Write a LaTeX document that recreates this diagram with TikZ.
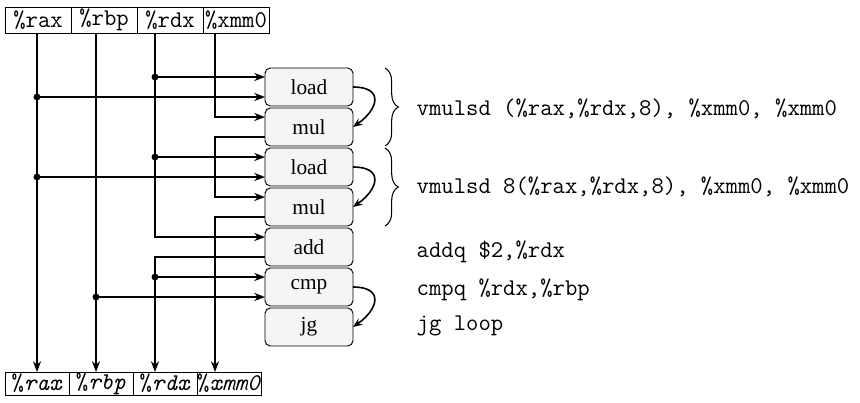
\documentclass[tikz,border=0pt]{standalone}
\usepackage{fontspec}
\setmainfont{Liberation Serif}
\usetikzlibrary{arrows.meta,calc,positioning,decorations.pathreplacing}

\begin{document}
\begin{tikzpicture}[
  x=0.75pt, y=0.75pt,
  every node/.style={font=\fontsize{16}{19}\selectfont},
  regbox/.style={draw, line width=0.7pt, outer sep=0pt, inner sep=0pt,
    minimum width=49.5pt, minimum height=19.5pt,
    font=\ttfamily\fontsize{18}{20}\selectfont},
  opbox/.style={draw, line width=0.7pt, rounded corners=4pt, fill=black!4,
    outer sep=0pt, minimum width=66pt, minimum height=28.5pt},
  wire/.style={line width=1.4pt},
  wire arrow/.style={wire, -{Stealth[length=8pt,width=6pt]}},
  loop arrow/.style={line width=1.2pt, -{Stealth[length=7pt,width=5.5pt]}},
  asm/.style={anchor=base west, font=\ttfamily\fontsize{18}{20}\selectfont},
]

%% Fixed picture size
\useasboundingbox (0,0) rectangle (860,-403);

%% ---- Registers on entry ----
\node[regbox] (rax) at (38,-20) {\%rax};
\node[regbox, right=0pt of rax] (rbp) {\%rbp};
\node[regbox, right=0pt of rbp] (rdx) {\%rdx};
\node[regbox, right=0pt of rdx] (xmm0) {\%xmm0};

%% ---- Registers on exit ----
\node[regbox, minimum width=48pt, minimum height=17.25pt] (orax) at (37,-383.5) {\%\textit{rax}};
\node[regbox, minimum width=48pt, minimum height=17.25pt, right=0pt of orax] (orbp) {\%\textit{rbp}};
\node[regbox, minimum width=48pt, minimum height=17.25pt, right=0pt of orbp] (ordx) {\%\textit{rdx}};
\node[regbox, minimum width=48pt, minimum height=17.25pt, right=0pt of ordx] (oxmm0) {\%\textit{xmm0}};

%% x positions of the register wires
\coordinate (x-rax) at (37,0);
\coordinate (x-rbp) at (96,0);
\coordinate (x-rdx) at (155,0);
\coordinate (x-xmm0) at (215,0);

%% ---- Micro-op boxes ----
\node[opbox] (load1) at (309,-87) {load};
\node[opbox, below=1.5pt of load1] (mul1) {mul};
\node[opbox, below=1.5pt of mul1] (load2) {load};
\node[opbox, below=1.5pt of load2] (mul2) {mul};
\node[opbox, below=1.5pt of mul2] (add) {add};
\node[opbox, below=1.5pt of add] (cmp) {cmp};
\node[opbox, below=1.5pt of cmp] (jg) {jg};

% ports: a = upper, b = lower
\coordinate (load1-a) at ([yshift=7.5pt]load1.west);
\coordinate (load1-b) at ([yshift=-7.5pt]load1.west);
\coordinate (mul1-a) at ([yshift=7.5pt]mul1.west);
\coordinate (mul1-b) at ([yshift=-7.5pt]mul1.west);
\coordinate (load2-a) at ([yshift=7.5pt]load2.west);
\coordinate (load2-b) at ([yshift=-7.5pt]load2.west);
\coordinate (mul2-a) at ([yshift=7.5pt]mul2.west);
\coordinate (mul2-b) at ([yshift=-7.5pt]mul2.west);
\coordinate (add-a) at ([yshift=7.5pt]add.west);
\coordinate (add-b) at ([yshift=-7.5pt]add.west);
\coordinate (cmp-a) at ([yshift=7.5pt]cmp.west);
\coordinate (cmp-b) at ([yshift=-7.5pt]cmp.west);

%% ---- Data flow ----
% %rax: read by both loads
\draw[wire arrow] (x-rax |- rax.south) -- (x-rax |- orax.north);
\draw[wire arrow] (x-rax |- load1-b) -- (load1-b);
\draw[wire arrow] (x-rax |- load2-b) -- (load2-b);

% %rbp: read by cmp
\draw[wire arrow] (x-rbp |- rbp.south) -- (x-rbp |- orbp.north);
\draw[wire arrow] (x-rbp |- cmp-b) -- (cmp-b);

% %rdx: read by loads, updated by add
\draw[wire arrow] (x-rdx |- rdx.south) |- (add-a);
\draw[wire arrow] (x-rdx |- load1-a) -- (load1-a);
\draw[wire arrow] (x-rdx |- load2-a) -- (load2-a);
\draw[wire arrow] (add-b) -| (x-rdx |- ordx.north);
\draw[wire arrow] (x-rdx |- cmp-a) -- (cmp-a);

% %xmm0: chained through both multiplies
\draw[wire arrow] (x-xmm0 |- xmm0.south) |- (mul1-a);
\draw[wire arrow] (mul1-b) -- (x-xmm0 |- mul1-b) |- (mul2-a);
\draw[wire arrow] (mul2-b) -| (x-xmm0 |- oxmm0.north);

% branch points
\fill (x-rax |- load1-b) circle (2.6pt);
\fill (x-rax |- load2-b) circle (2.6pt);
\fill (x-rbp |- cmp-b) circle (2.6pt);
\fill (x-rdx |- load1-a) circle (2.6pt);
\fill (x-rdx |- load2-a) circle (2.6pt);
\fill (x-rdx |- cmp-a) circle (2.6pt);

%% ---- Dependencies inside instructions ----
\draw[loop arrow] (load1.east) to[out=0, in=35, looseness=2] (mul1.east);
\draw[loop arrow] (load2.east) to[out=0, in=35, looseness=2] (mul2.east);
\draw[loop arrow] (cmp.east) to[out=0, in=35, looseness=2] (jg.east);

%% ---- Braces and assembly ----
\draw[decorate, decoration={brace, amplitude=10pt}, line width=0.8pt]
  ([xshift=24pt]load1.north east) -- ([xshift=24pt]mul1.south east);
\draw[decorate, decoration={brace, amplitude=10pt}, line width=0.8pt]
  ([xshift=24pt]load2.north east) -- ([xshift=24pt]mul2.south east);

\node[asm] (asm1) at (412,-115) {vmulsd (\%rax,\%rdx,8), \%xmm0, \%xmm0};
\node[asm] (asm2) at (412,-193) {vmulsd 8(\%rax,\%rdx,8), \%xmm0, \%xmm0};
\node[asm] (asm3) at (412,-257) {addq \$2,\%rdx};
\node[asm] (asm4) at (412,-295) {cmpq \%rdx,\%rbp};
\node[asm] (asm5) at (412,-330) {jg loop};

\end{tikzpicture}
\end{document}
